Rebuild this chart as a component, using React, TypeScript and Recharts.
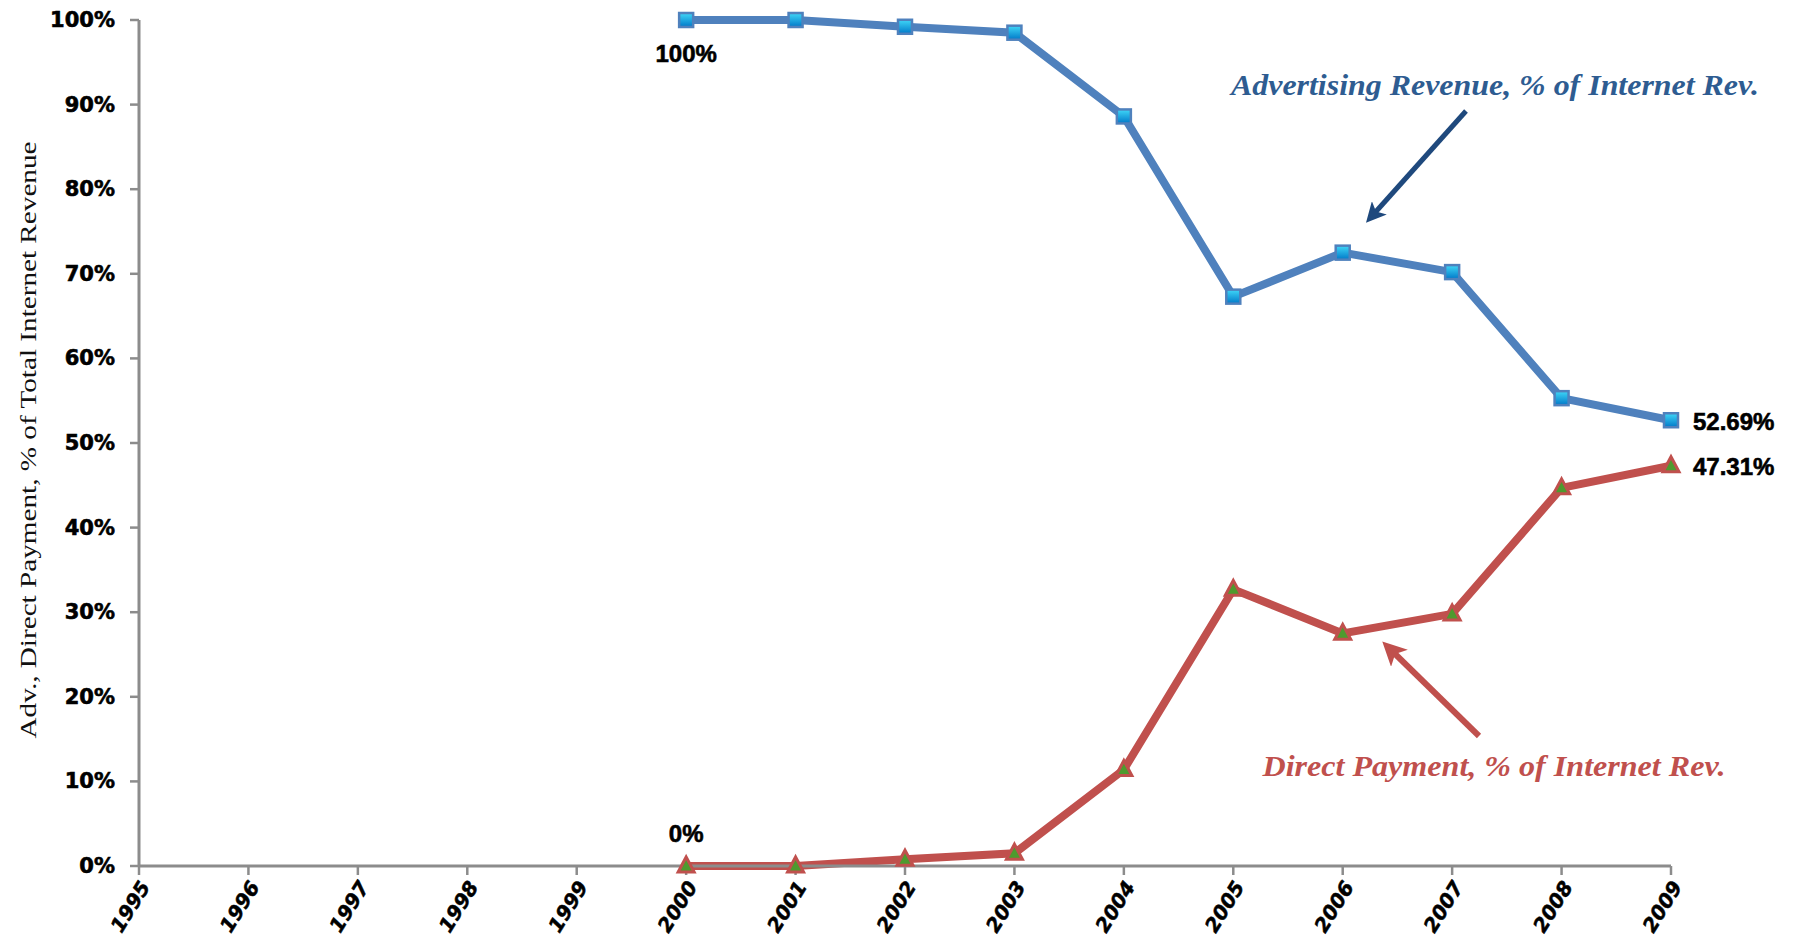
import { LineChart, Line, XAxis, YAxis, LabelList } from "recharts"

const tickYears = [1995, 1996, 1997, 1998, 1999, 2000, 2001, 2002, 2003, 2004, 2005, 2006, 2007, 2008, 2009]
const percentTicks = [0, 10, 20, 30, 40, 50, 60, 70, 80, 90, 100]

const dataYears = [2000, 2001, 2002, 2003, 2004, 2005, 2006, 2007, 2008, 2009]
const advertising = [100, 100, 99.2, 98.5, 88.6, 67.3, 72.5, 70.2, 55.3, 52.69]
const directPayment = [0, 0, 0.8, 1.5, 11.4, 32.7, 27.5, 29.8, 44.7, 47.31]

const BLUE = "#4F81BD"
const RED = "#C0504D"
const AXIS = "#8C8C8C"

const data = dataYears.map((year, i) => ({
  year,
  adv: advertising[i],
  direct: directPayment[i],
}))

const SquareDot = (props: any) => {
  const { cx, cy } = props
  if (cx == null || cy == null) return null
  return (
    <rect x={cx - 7} y={cy - 7} width={14} height={14} fill="url(#sqFill)" stroke={BLUE} strokeWidth={2.5} />
  )
}

const TriangleDot = (props: any) => {
  const { cx, cy } = props
  if (cx == null || cy == null) return null
  return (
    <polygon
      points={`${cx},${cy - 9} ${cx + 8},${cy + 6} ${cx - 8},${cy + 6}`}
      fill="#4E9A2E"
      stroke={RED}
      strokeWidth={3}
    />
  )
}

const YTick = (props: any) => {
  const { x, y, payload } = props
  return (
    <text x={x} y={y} textAnchor="end" dominantBaseline="central"
      fontFamily="DejaVu Sans" fontWeight="bold" fontSize={21} fill="#000"
      stroke="#000" strokeWidth={0.6}>
      {payload.value}%
    </text>
  )
}

const XTick = (props: any) => {
  const { x, y, payload } = props
  return (
    <text transform={`translate(${x + 6},${y + 8}) rotate(-58)`} textAnchor="end" dominantBaseline="central"
      fontFamily="DejaVu Sans" fontWeight="bold" fontStyle="italic" fontSize={20} fill="#000"
      stroke="#000" strokeWidth={0.5}>
      {payload.value}
    </text>
  )
}

const labelFont = { fontFamily: "Liberation Sans", fontWeight: "bold" as const, fontSize: 24, fill: "#000" }

const makeLabel = (firstBelow: boolean) => (props: any) => {
  const { x, y, value, index } = props
  if (index === 0) {
    return (
      <text x={x} y={firstBelow ? y + 33 : y - 33} textAnchor="middle" dominantBaseline="central"
        stroke="#000" strokeWidth={0.6} {...labelFont}>
        {value}%
      </text>
    )
  }
  if (index === dataYears.length - 1) {
    return (
      <text x={x + 22} y={y + 1} textAnchor="start" dominantBaseline="central"
        stroke="#000" strokeWidth={0.6} {...labelFont}>
        {value}%
      </text>
    )
  }
  return null
}

export default function App() {
  return (
    <div style={{ position: "absolute", left: 0, top: 0, width: 1800, height: 941, background: "#fff" }}>
      <LineChart width={1800} height={941} data={data} margin={{ top: 20, right: 129, bottom: 0, left: 0 }}>
        <defs>
          <linearGradient id="sqFill" x1="0" y1="0" x2="0" y2="1">
            <stop offset="0%" stopColor="#40D8F8" />
            <stop offset="100%" stopColor="#0078C8" />
          </linearGradient>
        </defs>
        <XAxis
          type="number"
          dataKey="year"
          domain={[1995, 2009]}
          ticks={tickYears}
          interval={0}
          height={75}
          tickSize={9}
          tickMargin={0}
          axisLine={{ stroke: AXIS, strokeWidth: 3 }}
          tickLine={{ stroke: AXIS, strokeWidth: 2.5 }}
          tick={<XTick />}
        />
        <YAxis
          type="number"
          domain={[0, 100]}
          ticks={percentTicks}
          interval={0}
          width={139}
          tickSize={9}
          tickMargin={15}
          axisLine={{ stroke: AXIS, strokeWidth: 3 }}
          tickLine={{ stroke: AXIS, strokeWidth: 2.5 }}
          tick={<YTick />}
        />
        <Line
          type="linear"
          dataKey="adv"
          stroke={BLUE}
          strokeWidth={8}
          dot={<SquareDot />}
          activeDot={false}
          isAnimationActive={false}
        >
          <LabelList dataKey="adv" content={makeLabel(true)} />
        </Line>
        <Line
          type="linear"
          dataKey="direct"
          stroke={RED}
          strokeWidth={8}
          dot={<TriangleDot />}
          activeDot={false}
          isAnimationActive={false}
        >
          <LabelList dataKey="direct" content={makeLabel(false)} />
        </Line>
      </LineChart>
      <svg width={1800} height={941} style={{ position: "absolute", left: 0, top: 0, pointerEvents: "none" }}>
        <defs>
          <marker id="headBlue" markerWidth="4" markerHeight="4" refX="2.2" refY="2" orient="auto" markerUnits="strokeWidth">
            <path d="M0,0 L4,2 L0,4 L1,2 Z" fill="#1F497D" />
          </marker>
          <marker id="headRed" markerWidth="4" markerHeight="4" refX="2.2" refY="2" orient="auto" markerUnits="strokeWidth">
            <path d="M0,0 L4,2 L0,4 L1,2 Z" fill={RED} />
          </marker>
        </defs>
        <text transform="translate(28,440) rotate(-90)" textAnchor="middle" dominantBaseline="central"
          fontFamily="Liberation Serif" fontSize={23} fill="#111" textLength={597} lengthAdjust="spacingAndGlyphs">
          Adv., Direct Payment, % of  Total Internet Revenue
        </text>
        <line x1={1466} y1={111} x2={1372} y2={216} stroke="#1F497D" strokeWidth={5} markerEnd="url(#headBlue)" />
        <line x1={1479} y1={736} x2={1390} y2={649} stroke={RED} strokeWidth={6} markerEnd="url(#headRed)" />
        <text x={1495} y={95} textAnchor="middle" fontFamily="Liberation Serif" fontWeight="bold" fontStyle="italic"
          fontSize={29} fill="#2E5C91" textLength={528} lengthAdjust="spacingAndGlyphs">
          Advertising Revenue, % of Internet Rev.
        </text>
        <text x={1494} y={776} textAnchor="middle" fontFamily="Liberation Serif" fontWeight="bold" fontStyle="italic"
          fontSize={29} fill={RED} textLength={463} lengthAdjust="spacingAndGlyphs">
          Direct Payment, % of Internet Rev.
        </text>
      </svg>
    </div>
  )
}
